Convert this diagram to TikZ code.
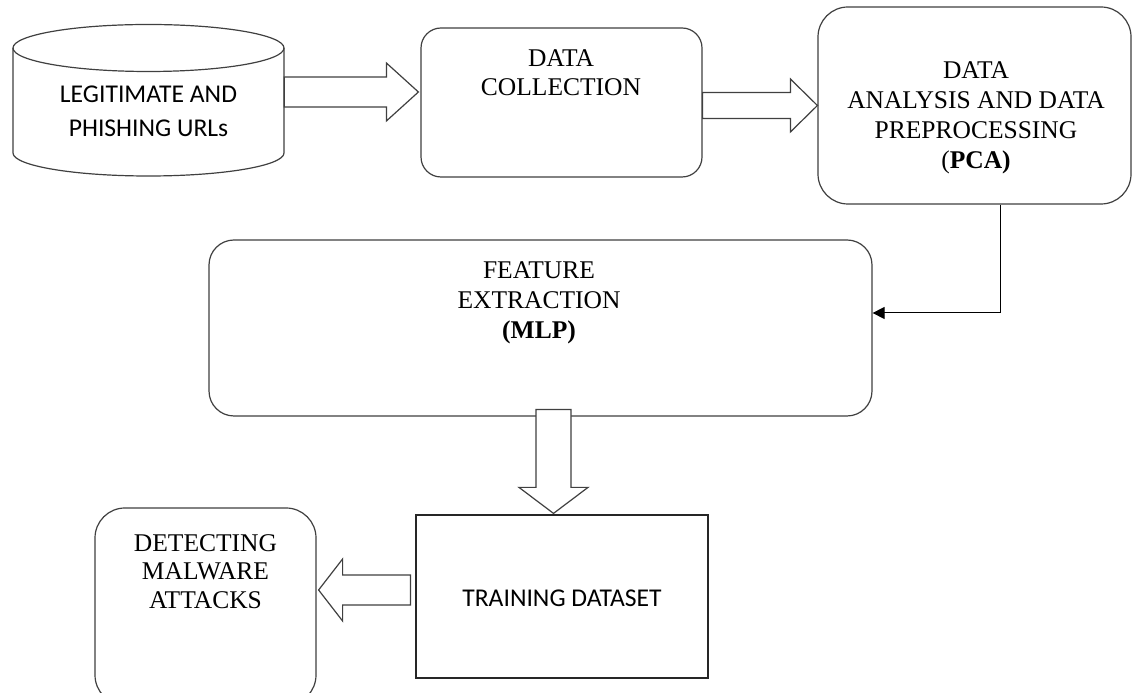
\documentclass[tikz,border=0pt]{standalone}
\usepackage{fontspec}
\setmainfont{Liberation Serif}
\newfontfamily\calib{Carlito}
\usetikzlibrary{calc,arrows.meta}
\definecolor{lc}{RGB}{64,64,64}
\tikzset{
  box/.style={draw=lc, line width=1.2pt, inner sep=0pt},
  serif/.style={align=center, font=\fontsize{25.5}{30}\selectfont, inner sep=0pt},
  sans/.style={align=center, font=\calib\fontsize{25.6}{34}\selectfont, inner sep=0pt},
  barrow/.style={draw=lc, line width=1.2pt, fill=white, line join=miter},
  conn/.style={draw=black, line width=1pt, -{Triangle[length=12pt,width=12pt]}}
}
\newcommand\blockarr[5]{%
  \coordinate (ba-h) at ($(#2)!#5!(#1)$);
  \draw[barrow] ($(#1)!#3!90:(#2)$) -- ($(ba-h)!#3!90:(#2)$) -- ($(ba-h)!#4!90:(#2)$) -- (#2)
    -- ($(ba-h)!#4!-90:(#2)$) -- ($(ba-h)!#3!-90:(#2)$) -- ($(#1)!#3!-90:(#2)$) -- cycle;}
\begin{document}
\begin{tikzpicture}[x=1pt,y=1pt]
\useasboundingbox (0,0) rectangle (1132,693);
\clip (0,0) rectangle (1132,693);
\fill[white] (0,0) rectangle (1132,693);

% cylinder
\node[inner sep=0pt, minimum width=271pt, minimum height=151pt] (cyl) at (148.5,592.5) {};
\draw[box] (13,645) -- (13,540) arc[start angle=180,end angle=360,x radius=135.5,y radius=23] -- (284,645);
\draw[box] (148.5,645) ellipse[x radius=135.5, y radius=23.5];
\node[sans] (cylT) at (148.5,582) {LEGITIMATE AND\\PHISHING URLs};

% data collection
\node[box, rounded corners=20pt, minimum width=281pt, minimum height=149pt] (dc) at (561.5,590.5) {};
\node[serif, font=\fontsize{25.5}{29}\selectfont] (dcT) at (561,620.5) {DATA\\COLLECTION};

% data analysis
\node[box, rounded corners=30pt, minimum width=313pt, minimum height=197pt] (da) at (974.5,587.5) {};
\node[serif] (daT) at (976,575.25) {DATA\\ANALYSIS AND DATA\\PREPROCESSING\\(\textbf{PCA)}};

% feature extraction
\node[box, rounded corners=25pt, minimum width=663pt, minimum height=176pt] (fe) at (540.5,365) {};
\node[serif] (feT) at (539,390) {FEATURE\\EXTRACTION\\\textbf{(MLP)}};

% training dataset
\node[box, draw=black!85, minimum width=292pt, minimum height=163pt] (tr) at (562,96.5) {};
\node[sans] (trT) at (562,95) {TRAINING DATASET};

% detecting
\node[box, rounded corners=30pt, minimum width=221pt, minimum height=197pt] (det) at (205.5,86.5) {};
\node[serif, font=\fontsize{25.5}{28.5}\selectfont] (detT) at (205.5,121.5) {DETECTING\\MALWARE\\ATTACKS};

% block arrows
\coordinate (a1t) at ($(cyl.east)+(0,8.5)$);
\coordinate (a1h) at ($(dc.west)+(-2,10.5)$);
\blockarr{a1t}{a1h}{15pt}{29pt}{32pt}

\coordinate (a2t) at (dc.east |- da.west);
\blockarr{a2t}{da.west}{13pt}{26.5pt}{27pt}

\coordinate (a3t) at ($(fe.south)+(13,7)$);
\coordinate (a3h) at ($(tr.north)+(-8.5,1)$);
\blockarr{a3t}{a3h}{17.5pt}{34.5pt}{26pt}

\coordinate (a4t) at ($(tr.west)+(-5,6.5)$);
\coordinate (a4h) at ($(det.east)+(2,16.5)$);
\blockarr{a4t}{a4h}{15pt}{31pt}{24pt}

% connector
\coordinate (c1) at ($(da.south)+(25.5,0)$);
\coordinate (c2) at ($(fe.east)+(0,15)$);
\draw[conn] (c1) |- (c2);
\end{tikzpicture}
\end{document}
